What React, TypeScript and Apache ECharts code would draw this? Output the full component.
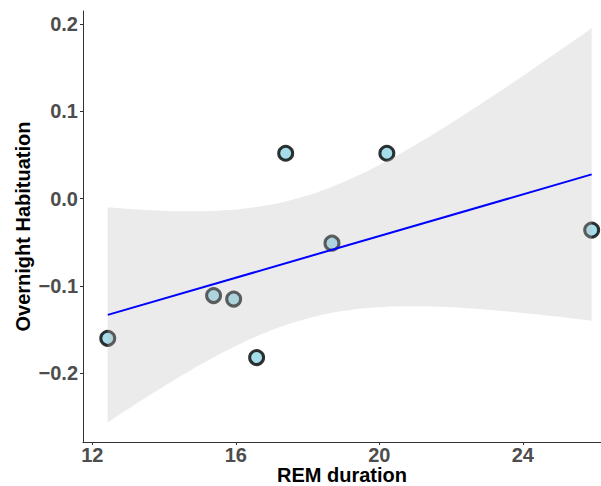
import React, { useEffect, useRef } from "react";
import * as echarts from "echarts";

// Data
const remDuration = [12.43, 15.38, 15.94, 16.58, 17.39, 18.68, 20.21, 25.92];
const habituation = [-0.160, -0.111, -0.115, -0.182, 0.052, -0.051, 0.052, -0.036];

const xTicks = [12, 16, 20, 24];
const yTicks = [-0.2, -0.1, 0.0, 0.1, 0.2];

const xAxisName = "REM duration";
const yAxisName = "Overnight Habituation";

// 97.5% quantile of Student's t with n - 2 = 6 degrees of freedom (geom_smooth level 0.95)
const T_QUANTILE = 2.446912;
const SMOOTH_POINTS = 80;

function linearFit(xs: number[], ys: number[]) {
  const n = xs.length;
  const mx = xs.reduce((a, b) => a + b, 0) / n;
  const my = ys.reduce((a, b) => a + b, 0) / n;
  let sxx = 0;
  let sxy = 0;
  for (let i = 0; i < n; i++) {
    sxx += (xs[i] - mx) * (xs[i] - mx);
    sxy += (xs[i] - mx) * (ys[i] - my);
  }
  const slope = sxy / sxx;
  const intercept = my - slope * mx;
  let sse = 0;
  for (let i = 0; i < n; i++) {
    const r = ys[i] - (intercept + slope * xs[i]);
    sse += r * r;
  }
  const s = Math.sqrt(sse / (n - 2));
  return { n, mx, sxx, slope, intercept, s };
}

const fmt = (v: number) => {
  const t = Math.abs(v).toFixed(1);
  return v < -1e-9 ? "\u2212" + t : t;
};

export default function App() {
  const ref = useRef<HTMLDivElement>(null);

  useEffect(() => {
    if (!ref.current) return;
    const chart = echarts.init(ref.current, undefined, { renderer: "svg" });

    const fit = linearFit(remDuration, habituation);
    const xmin = Math.min(...remDuration);
    const xmax = Math.max(...remDuration);
    const bandX: number[] = [];
    const bandLo: number[] = [];
    const bandHi: number[] = [];
    for (let i = 0; i < SMOOTH_POINTS; i++) {
      const x = xmin + ((xmax - xmin) * i) / (SMOOTH_POINTS - 1);
      const yhat = fit.intercept + fit.slope * x;
      const se = fit.s * Math.sqrt(1 / fit.n + ((x - fit.mx) * (x - fit.mx)) / fit.sxx);
      bandX.push(x);
      bandLo.push(yhat - T_QUANTILE * se);
      bandHi.push(yhat + T_QUANTILE * se);
    }
    const lineData = [
      [xmin, fit.intercept + fit.slope * xmin],
      [xmax, fit.intercept + fit.slope * xmax],
    ];

    const font = "'Liberation Sans', Arial, sans-serif";

    chart.setOption({
      animation: false,
      backgroundColor: "#ffffff",
      grid: { left: 83, right: 0, top: 11, bottom: 44, containLabel: false, outerBoundsMode: "none" },
      xAxis: {
        type: "value",
        min: 11.74,
        max: 26.18,
        name: xAxisName,
        nameLocation: "middle",
        nameGap: 23,
        nameMoveOverlap: false,
        nameTextStyle: { fontFamily: font, fontWeight: "bold", fontSize: 20, color: "#000000" },
        axisLine: { show: true, onZero: false, lineStyle: { color: "#333333", width: 1 } },
        axisTick: { show: true, length: 3, customValues: xTicks, lineStyle: { color: "#333333" } },
        axisLabel: {
          customValues: xTicks,
          margin: 3,
          fontFamily: font,
          fontWeight: "bold",
          fontSize: 20,
          color: "#4d4d4d",
          formatter: (v: number) => String(v),
        },
        splitLine: { show: false },
      },
      yAxis: {
        type: "value",
        min: -0.2787,
        max: 0.2149,
        name: yAxisName,
        nameLocation: "middle",
        nameGap: 50,
        nameMoveOverlap: false,
        nameTextStyle: { fontFamily: font, fontWeight: "bold", fontSize: 20, color: "#000000" },
        axisLine: { show: true, onZero: false, lineStyle: { color: "#333333", width: 1 } },
        axisTick: { show: true, length: 3, customValues: yTicks, lineStyle: { color: "#333333" } },
        axisLabel: {
          customValues: yTicks,
          margin: 5,
          fontFamily: font,
          fontWeight: "bold",
          fontSize: 20,
          color: "#4d4d4d",
          formatter: (v: number) => fmt(v),
        },
        splitLine: { show: false },
      },
      series: [
        {
          type: "scatter",
          z: 2,
          data: remDuration.map((x, i) => [x, habituation[i]]),
          symbol: "circle",
          symbolSize: 14,
          itemStyle: { color: "#8fd4e4", borderColor: "#000000", borderWidth: 3 },
        },
        {
          type: "custom",
          z: 3,
          silent: true,
          data: [[bandX[0], bandLo[0]]],
          renderItem: (_params: any, api: any) => {
            const pts: number[][] = [];
            for (let i = 0; i < bandX.length; i++) pts.push(api.coord([bandX[i], bandHi[i]]));
            for (let i = bandX.length - 1; i >= 0; i--) pts.push(api.coord([bandX[i], bandLo[i]]));
            return {
              type: "polygon",
              shape: { points: pts },
              style: { fill: "rgba(190,190,190,0.31)", stroke: "none" },
            };
          },
        },
        {
          type: "line",
          z: 4,
          data: lineData,
          showSymbol: false,
          symbol: "none",
          lineStyle: { color: "#0000ff", width: 2 },
        },
      ],
    });

    return () => chart.dispose();
  }, []);

  return (
    <div
      ref={ref}
      style={{ position: "fixed", left: 0, top: 0, width: 601, height: 486, background: "#fff" }}
    />
  );
}
